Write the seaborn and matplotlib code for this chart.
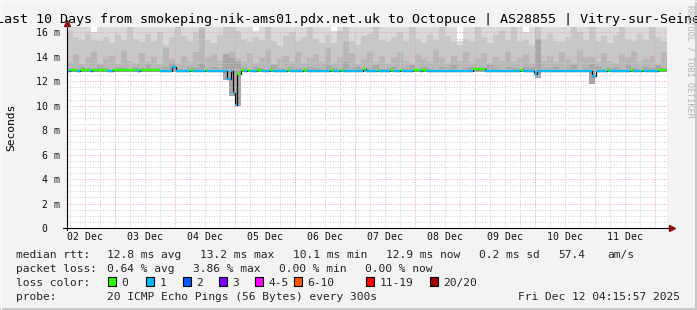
import numpy as np
import pandas as pd
import matplotlib
matplotlib.use("Agg")
import matplotlib.pyplot as plt
import seaborn as sns
from matplotlib.patches import Rectangle
from matplotlib.lines import Line2D

# ---------------- data ----------------
title = "Last 10 Days from smokeping-nik-ams01.pdx.net.uk to Octopuce | AS28855 | Vitry-sur-Seine"
day_labels = ["02 Dec", "03 Dec", "04 Dec", "05 Dec", "06 Dec",
              "07 Dec", "08 Dec", "09 Dec", "10 Dec", "11 Dec"]
y_labels = ["0  ", "2 m", "4 m", "6 m", "8 m", "10 m", "12 m", "14 m", "16 m"]
y_ticks = [0, 2, 4, 6, 8, 10, 12, 14, 16]

# time in days since 02 Dec 00:00; window 02 Dec 04:48 -> 12 Dec 04:48
t_start = 0.2
t_end = 10.2

# smoke buckets (100 buckets of 0.1 day)
smoke_bottom = [12.8, 12.8, 12.8, 12.8, 12.8, 12.8, 12.8, 12.8, 12.8, 12.8,
                12.8, 12.8, 12.8, 12.8, 12.8, 12.8, 12.8, 12.8, 12.8, 12.8,
                12.8, 12.8, 12.8, 12.8, 12.8, 12.8, 12.1, 10.8, 9.95, 12.8,
                12.8, 12.8, 12.8, 12.8, 12.8, 12.8, 12.8, 12.8, 12.8, 12.8,
                12.8, 12.8, 12.8, 12.8, 12.8, 12.8, 12.8, 12.8, 12.8, 12.8,
                12.8, 12.8, 12.8, 12.8, 12.8, 12.8, 12.8, 12.8, 12.8, 12.8,
                12.8, 12.8, 12.8, 12.8, 12.8, 12.8, 12.8, 12.8, 12.8, 12.8,
                12.8, 12.8, 12.8, 12.8, 12.8, 12.8, 12.8, 12.8, 12.3, 12.8,
                12.8, 12.8, 12.8, 12.8, 12.8, 12.8, 12.8, 11.8, 12.8, 12.8,
                12.8, 12.8, 12.8, 12.8, 12.8, 12.8, 12.8, 12.8, 12.8, 12.8]
smoke_light_top = [17, 17, 17, 17, 16.0, 17, 17, 17, 17, 17,
                   17, 17, 17, 17, 17, 17, 17, 17, 17, 17,
                   17, 17, 17, 17, 17, 17, 17, 17, 17, 17,
                   17, 16.1, 17, 17, 17, 17, 17, 17, 17, 17,
                   17, 17, 17, 17, 16.1, 17, 17, 17, 17, 17,
                   17, 17, 17, 17, 17, 17, 17, 17, 17, 17,
                   17, 17, 17, 17, 17, 15.3, 17, 17, 17, 17,
                   17, 17, 17, 17, 17, 17, 16.0, 17, 17, 17,
                   17, 17, 17, 17, 17, 17, 17, 17, 17, 17,
                   17, 17, 17, 17, 17, 17, 17, 17, 17, 17]
smoke_mid_top = [16.1, 15.6, 15.4, 15.9, 15.4, 15.3, 15.6, 15.1, 15.8, 15.4,
                 16.5, 15.5, 15.2, 15.9, 15.3, 16.0, 15.0, 15.6, 16.5, 15.7,
                 15.3, 16.0, 16.5, 15.4, 15.1, 15.8, 16.5, 16.5, 16.1, 15.5,
                 15.2, 15.6, 15.4, 16.5, 15.3, 14.9, 15.7, 16.0, 15.3, 15.6,
                 16.5, 15.5, 15.1, 15.8, 15.1, 16.1, 16.5, 15.3, 15.0, 15.7,
                 15.9, 16.5, 15.4, 15.2, 15.6, 16.0, 15.3, 16.5, 15.5, 15.1,
                 15.8, 15.4, 16.5, 15.7, 15.2, 15.0, 15.5, 15.3, 16.5, 15.6,
                 15.1, 15.8, 16.1, 15.4, 16.5, 15.3, 15.4, 15.0, 16.5, 15.5,
                 15.9, 15.3, 15.2, 15.6, 16.5, 16.0, 15.4, 16.5, 15.3, 15.7,
                 15.1, 15.8, 16.5, 15.5, 15.3, 15.9, 15.4, 16.5, 15.6, 15.3]
smoke_dark_top = [13.6, 14.2, 13.4, 13.9, 14.5, 13.5, 13.8, 14.1, 13.4, 14.6,
                  13.7, 13.5, 14.3, 13.6, 14.0, 13.4, 14.7, 13.8, 13.5, 14.1,
                  13.6, 14.4, 16.3, 13.9, 14.2, 13.7, 14.0, 14.5, 13.8, 13.6,
                  14.3, 13.5, 13.9, 14.6, 13.4, 13.8, 14.1, 13.6, 14.4, 13.5,
                  13.9, 14.2, 13.6, 14.7, 13.5, 14.0, 15.2, 14.3, 13.4, 13.8,
                  14.5, 13.6, 14.1, 13.5, 13.9, 14.4, 13.7, 13.5, 14.2, 13.8,
                  13.6, 14.6, 13.9, 13.5, 14.1, 13.7, 14.4, 13.6, 13.8, 14.3,
                  13.5, 14.0, 13.7, 14.5, 13.6, 13.9, 14.2, 13.5, 14.8, 13.7,
                  14.1, 13.6, 14.4, 13.8, 13.5, 14.6, 13.9, 14.0, 13.6, 14.3,
                  13.7, 13.5, 14.2, 13.9, 14.5, 13.6, 13.8, 14.1, 13.5, 14.4]
smoke_darkest_top = [13.1, 13.0, 13.2, 13.1, 13.0, 13.3, 13.1, 13.0, 13.2, 13.1,
                     13.0, 13.2, 13.1, 13.3, 13.0, 13.1, 13.2, 13.5, 13.1, 13.0,
                     13.2, 13.1, 13.4, 13.0, 13.2, 13.1, 14.2, 13.9, 13.6, 13.1,
                     13.0, 13.2, 13.1, 13.0, 13.3, 13.1, 13.0, 13.2, 13.1, 13.0,
                     13.2, 13.1, 13.0, 13.3, 13.1, 13.0, 13.6, 13.1, 13.2, 13.0,
                     13.1, 13.3, 13.0, 13.1, 13.2, 13.0, 13.1, 13.3, 13.0, 13.2,
                     13.1, 13.0, 13.2, 13.1, 13.3, 13.0, 13.1, 13.2, 13.0, 13.1,
                     13.3, 13.1, 13.0, 13.2, 13.1, 13.0, 13.2, 13.1, 15.5, 13.0,
                     13.1, 13.2, 13.0, 13.1, 13.3, 13.0, 13.1, 13.4, 13.2, 13.0,
                     13.1, 13.2, 13.0, 13.3, 13.1, 13.0, 13.2, 13.1, 13.3, 13.1]

# median rtt (ms) as step segments: start day, value, loss category
med_start = [0.200, 0.250, 0.367, 0.417, 0.583, 0.617, 0.867, 0.967, 1.367, 1.417,
             1.750, 1.950, 2.017, 2.250, 2.300, 2.500, 2.533, 2.867, 2.933, 2.967,
             3.000, 3.033, 3.100, 3.150, 3.200, 3.250, 3.367, 3.450, 3.583, 3.633,
             3.867, 3.917, 4.133, 4.200, 4.583, 4.633, 4.750, 4.800, 5.133, 5.183,
             5.367, 5.400, 5.583, 5.633, 5.750, 5.783, 5.967, 6.083, 6.117, 6.200,
             6.967, 7.167, 7.750, 7.800, 7.983, 8.033, 8.950, 9.017, 9.200, 9.250,
             9.583, 9.633, 9.783, 9.817, 10.050]
med_value = [12.85, 12.92, 12.85, 12.92, 12.85, 12.92, 12.85, 12.92, 12.85, 12.92,
             12.85, 13.15, 12.85, 12.92, 12.85, 12.92, 12.85, 12.20, 12.85, 11.05,
             10.05, 12.63, 12.92, 12.85, 12.92, 12.85, 12.92, 12.85, 12.92, 12.85,
             12.92, 12.85, 12.92, 12.85, 12.92, 12.85, 12.92, 12.85, 13.00, 12.85,
             12.92, 12.85, 12.92, 12.85, 12.92, 12.85, 12.92, 12.85, 12.92, 12.85,
             13.00, 12.85, 12.92, 12.85, 12.60, 12.85, 12.45, 12.85, 12.92, 12.85,
             12.92, 12.85, 12.92, 12.85, 12.92]
med_loss = ["1", "0", "1", "0", "1", "0", "1", "0", "1", "0",
            "1", "1", "1", "0", "1", "0", "1", "1", "1", "1",
            "1", "0", "0", "1", "0", "1", "0", "1", "0", "1",
            "0", "1", "0", "1", "0", "1", "0", "1", "0", "1",
            "0", "1", "0", "1", "0", "1", "0", "1", "0", "1",
            "0", "1", "0", "1", "1", "1", "1", "1", "0", "1",
            "0", "1", "0", "1", "0"]

loss_labels = ["0", "1", "2", "3", "4-5", "6-10", "11-19", "20/20"]
loss_colors = ["#26ff00", "#00b8ff", "#0059ff", "#7e00ff",
               "#ff00ff", "#ff5500", "#ff0000", "#a10000"]

row1 = [("median rtt:", 16), ("12.8 ms avg", 107), ("13.2 ms max", 200),
        ("10.1 ms min", 293), ("12.9 ms now", 386), ("0.2 ms sd", 479),
        ("57.4", 558), ("am/s", 607)]
row2 = [("packet loss:", 16), ("0.64 % avg", 107), ("3.86 % max", 193),
        ("0.00 % min", 279), ("0.00 % now", 365)]
probe_text = "20 ICMP Echo Pings (56 Bytes) every 300s"
stamp_text = "Fri Dec 12 04:15:57 2025"

# ---------------- style ----------------
W, H = 697, 310
sns.set_style("white")
plt.rcParams["font.family"] = ["DejaVu Sans Mono", "DejaVu Sans"]
BG = "#f3f3f3"

def fx(x):
    return x / W

def fy(y):
    return 1 - y / H

fig = plt.figure(figsize=(W / 100, H / 100), dpi=100, facecolor=BG)
ax = fig.add_axes([fx(67), 82 / H, 600 / W, 201 / H])
ax.set_facecolor("white")
ax.set_xlim(t_start, t_end)
ax.set_ylim(0, 16.45)

# smoke
edges = t_start + 0.1 * np.arange(len(smoke_bottom) + 1)
def ext(a):
    return list(a) + [a[-1]]
for top, col in [(smoke_light_top, "#d9d9d9"), (smoke_mid_top, "#c7c7c7"),
                 (smoke_dark_top, "#b7b7b7"), (smoke_darkest_top, "#a6a6a6")]:
    ax.fill_between(edges, ext(smoke_bottom), ext(top), step="post",
                    color=col, linewidth=0, zorder=1)

# grid (drawn over the smoke, like rrdtool)
dot = (0, (1, 1.6))
for yv in np.arange(0.5, 16.45, 0.5):
    if abs(yv - round(yv)) < 1e-9 and int(round(yv)) % 2 == 0:
        ax.axhline(yv, color="#eea0a0", lw=0.7, ls=dot, zorder=2)
    else:
        ax.axhline(yv, color="#cdcdcd", lw=0.7, ls=dot, zorder=2)
for xv in np.arange(0.25, 10.2, 0.25):
    if abs(xv - round(xv)) < 1e-9:
        ax.axvline(xv, color="#eea0a0", lw=0.7, ls=dot, zorder=2)
    else:
        ax.axvline(xv, color="#cdcdcd", lw=0.7, ls=dot, zorder=2)

# median: black step + loss coloured segments
step_x = med_start + [t_end]
step_y = med_value + [med_value[-1]]
sns.lineplot(x=step_x, y=step_y, drawstyle="steps-post", estimator=None,
             sort=False, color="#111111", linewidth=0.9, ax=ax, zorder=3)
rows = []
for i, (s, v, l) in enumerate(zip(med_start, med_value, med_loss)):
    e = med_start[i + 1] if i + 1 < len(med_start) else t_end
    rows.append((s, v, l, i))
    rows.append((e, v, l, i))
seg = pd.DataFrame(rows, columns=["t", "v", "loss", "seg"])
sns.lineplot(data=seg, x="t", y="v", hue="loss", units="seg", estimator=None,
             palette={"0": loss_colors[0], "1": loss_colors[1]},
             linewidth=1.6, legend=False, ax=ax, zorder=4, solid_capstyle="butt")

# axes, ticks
for s in ["top", "right", "left", "bottom"]:
    ax.spines[s].set_visible(False)
ax.set_xlabel("")
ax.set_ylabel("")
ax.set_yticks(y_ticks)
ax.set_yticklabels(y_labels)
ax.set_yticks(np.arange(0, 16.45, 0.5), minor=True)
ax.set_xticks([d + 0.5 for d in range(10)])
ax.set_xticklabels(day_labels)
ax.set_xticks(np.arange(0.25, 10.2, 0.25), minor=True)
ax.tick_params(axis="y", which="major", direction="out", length=1.6, width=0.6,
               color="#333333", pad=3.6, labelsize=7.1, labelcolor="#111111")
ax.tick_params(axis="y", which="minor", direction="out", length=1.6, width=0.6,
               color="#333333")
ax.tick_params(axis="x", which="major", length=0, pad=3.2, labelsize=7.1,
               labelcolor="#111111")
ax.tick_params(axis="x", which="minor", direction="out", length=1.6, width=0.6,
               color="#333333")

# axis lines with arrows
ax.add_line(Line2D([0, 0], [-0.012, 1.0], transform=ax.transAxes, color="black",
                   lw=0.8, clip_on=False, zorder=5))
ax.add_line(Line2D([-0.006, 1.003], [0, 0], transform=ax.transAxes, color="black",
                   lw=0.8, clip_on=False, zorder=5))
ax.plot([0], [1.02], marker="^", ms=4.2, color="#8b1010", transform=ax.transAxes,
        clip_on=False, zorder=6)
ax.plot([1.008], [0], marker=">", ms=4.2, color="#8b1010", transform=ax.transAxes,
        clip_on=False, zorder=6)

# texts
fig.text(0.5, fy(23), title, ha="center", va="baseline", fontsize=9.6,
         color="black")
fig.text(fx(11), fy(127), "Seconds", rotation=90, ha="center", va="center",
         fontsize=8.1, color="black")
fig.text(fx(690), fy(5), "RRDTOOL / TOBI OETIKER", rotation=270, ha="center",
         va="top", fontsize=6.1, color="#b4b4b4")

LFS = 8.1
for txt, x in row1:
    fig.text(fx(x), fy(258), txt, ha="left", va="baseline", fontsize=LFS)
for txt, x in row2:
    fig.text(fx(x), fy(272), txt, ha="left", va="baseline", fontsize=LFS)
fig.text(fx(16), fy(286), "loss color:", ha="left", va="baseline", fontsize=LFS)
box_x = [108, 146, 183, 219, 255, 294, 366, 430]
for lab, col, bx in zip(loss_labels, loss_colors, box_x):
    fig.add_artist(Rectangle((fx(bx), fy(285.5)), 7.5 / W, 8.5 / H,
                             transform=fig.transFigure, facecolor=col,
                             edgecolor="black", lw=0.8))
    fig.text(fx(bx + 13.5), fy(286), lab, ha="left", va="baseline", fontsize=LFS)
fig.text(fx(16), fy(300), "probe:", ha="left", va="baseline", fontsize=LFS)
fig.text(fx(107), fy(300), probe_text, ha="left", va="baseline", fontsize=LFS)
fig.text(fx(680), fy(300), stamp_text, ha="right", va="baseline", fontsize=LFS)

# frame
fig.add_artist(Line2D([fx(696), fx(696)], [0, 1], transform=fig.transFigure,
                      color="#c8c8c8", lw=1.5))
fig.add_artist(Line2D([0, 1], [fy(309), fy(309)], transform=fig.transFigure,
                      color="#c8c8c8", lw=1.5))
fig.add_artist(Line2D([fx(0.5), fx(0.5)], [0, 1], transform=fig.transFigure,
                      color="#fcfcfc", lw=1.0))
fig.add_artist(Line2D([0, 1], [fy(0.5), fy(0.5)], transform=fig.transFigure,
                      color="#fcfcfc", lw=1.0))

fig.savefig("out.png", dpi=100, facecolor=BG)
